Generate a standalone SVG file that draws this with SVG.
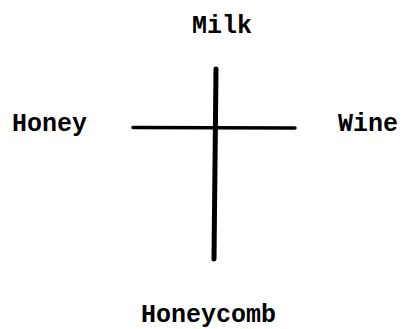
<svg xmlns="http://www.w3.org/2000/svg" width="406" height="329" viewBox="0 0 406 329">
<style>
.lbl{font-family:"Liberation Mono","Courier New",monospace;font-weight:bold;font-size:25px;fill:#000}
.ln{stroke:#000;stroke-linecap:round;fill:none}
</style>
<rect width="406" height="329" fill="#fff"/>
<g id="connectors">
<line class="ln" x1="216" y1="69" x2="214" y2="259" stroke-width="5"/>
<line class="ln" x1="133" y1="127.5" x2="295" y2="128" stroke-width="3.5"/>
</g>
<g id="milk"><text class="lbl" x="192" y="33">Milk</text></g>
<g id="honey"><text class="lbl" x="12" y="131">Honey</text></g>
<g id="wine"><text class="lbl" x="338" y="131">Wine</text></g>
<g id="honeycomb"><text class="lbl" x="141" y="322">Honeycomb</text></g>
</svg>
